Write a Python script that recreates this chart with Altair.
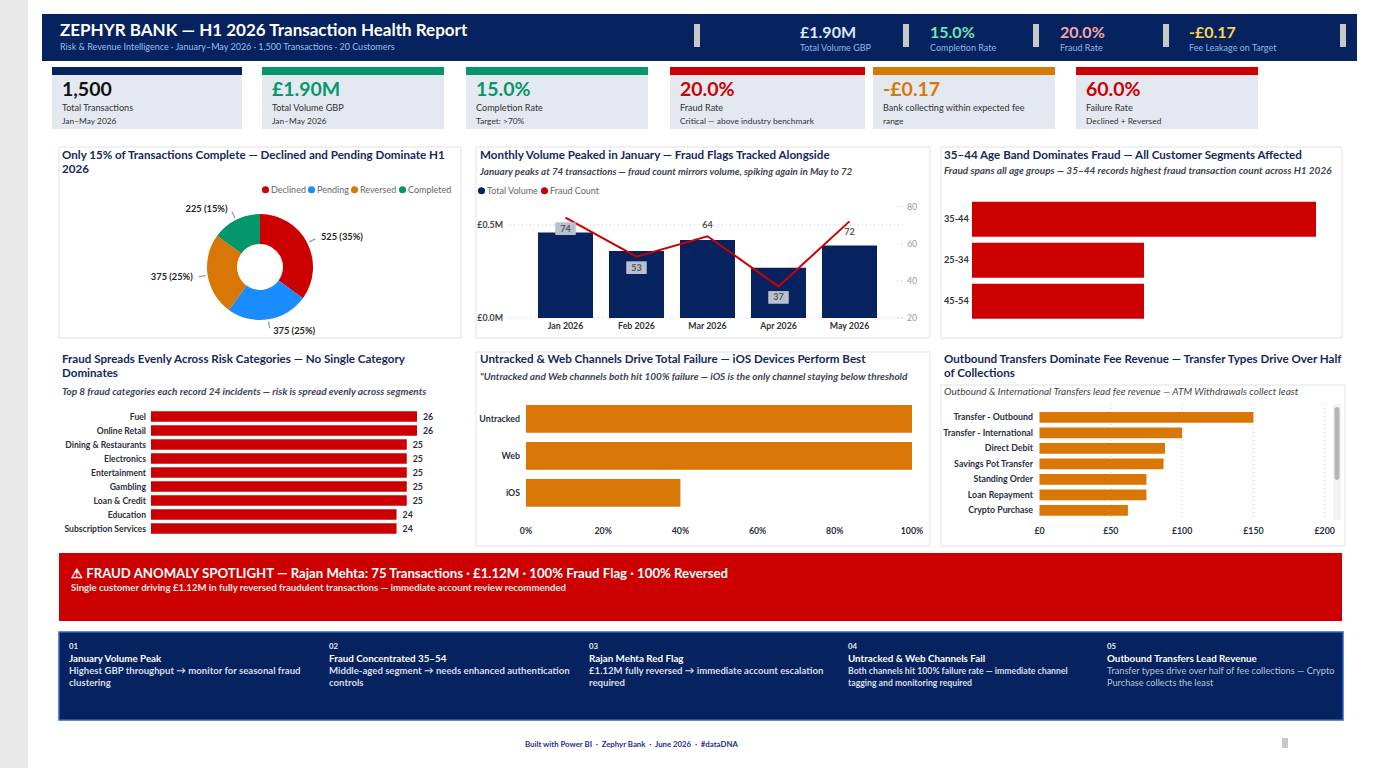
import altair as alt
import pandas as pd

FONT = "Lato"
NAVY = "#06225f"
RED = "#cc0000"
ORANGE = "#d97706"
GREEN = "#05966a"
BLUE = "#1a8cff"
CARD_BG = "#e4e8f0"
TITLE_C = "#14285c"
DARK = "#2b2f3d"
SUB_C = "#3d4358"
BORDER = "#dfe3ea"

# ---------------- values ----------------
status_labels = ["Declined", "Pending", "Reversed", "Completed"]
status_counts = [525, 375, 375, 225]
status_colors = [RED, BLUE, ORANGE, GREEN]

months = ["Jan 2026", "Feb 2026", "Mar 2026", "Apr 2026", "May 2026"]
volume_gbp_m = [0.46, 0.36, 0.42, 0.27, 0.39]
fraud_counts = [74, 53, 64, 37, 72]
vol_ticks = [0.0, 0.5]
fraud_ticks = [20, 40, 60, 80]
series_names = ["Total Volume", "Fraud Count"]

age_bands = ["35-44", "25-34", "45-54"]
age_fraud = [150, 75, 75]

fraud_cats = ["Fuel", "Online Retail", "Dining & Restaurants", "Electronics", "Entertainment",
              "Gambling", "Loan & Credit", "Education", "Subscription Services"]
fraud_cat_counts = [26, 26, 25, 25, 25, 25, 25, 24, 24]

channels = ["Untracked", "Web", "iOS"]
channel_fail = [1.0, 1.0, 0.4]
pct_ticks = [0, 0.2, 0.4, 0.6, 0.8, 1.0]

fee_types = ["Transfer - Outbound", "Transfer - International", "Direct Debit", "Savings Pot Transfer",
             "Standing Order", "Loan Repayment", "Crypto Purchase"]
fee_gbp = [150, 100, 88, 87, 75, 75, 62]
fee_ticks = [0, 50, 100, 150, 200]

kpi_values = ["1,500", "£1.90M", "15.0%", "20.0%", "-£0.17", "60.0%"]
kpi_labels = ["Total Transactions", "Total Volume GBP", "Completion Rate", "Fraud Rate",
              "Bank collecting within expected fee", "Failure Rate"]
kpi_notes = ["Jan–May 2026", "Jan–May 2026", "Target: >70%", "Critical — above industry benchmark",
             "range", "Declined + Reversed"]
kpi_value_colors = ["#111111", GREEN, GREEN, RED, ORANGE, RED]
kpi_bar_colors = [NAVY, GREEN, GREEN, RED, ORANGE, RED]

head_values = ["£1.90M", "15.0%", "20.0%", "-£0.17"]
head_labels = ["Total Volume GBP", "Completion Rate", "Fraud Rate", "Fee Leakage on Target"]
head_colors = ["#dbe7ff", "#6ee7b7", "#fca5a5", "#fcd34d"]

insight_nums = ["01", "02", "03", "04", "05"]
insight_titles = ["January Volume Peak", "Fraud Concentrated 35–54", "Rajan Mehta Red Flag",
                  "Untracked & Web Channels Fail", "Outbound Transfers Lead Revenue"]
insight_lines = [
    ["Highest GBP throughput → monitor for seasonal fraud", "clustering"],
    ["Middle-aged segment → needs enhanced authentication", "controls"],
    ["£1.12M fully reversed → immediate account escalation", "required"],
    ["Both channels hit 100% failure rate — immediate channel", "tagging and monitoring required"],
    ["Transfer types drive over half of fee collections — Crypto", "Purchase collects the least"],
]

# ---------------- layout ----------------
layers = []
TITLE_SIZE = 11.6
SUBT_SIZE = 10


def one():
    return alt.Chart(pd.DataFrame({"k": [0]}))


def box(x0, y0, x1, y1, fill, stroke=None, sw=1.0, radius=0, fo=1.0):
    kw = {"fill": fill, "fillOpacity": fo}
    if stroke:
        kw.update(stroke=stroke, strokeWidth=sw)
    if radius:
        kw["cornerRadius"] = radius
    layers.append(one().mark_rect(**kw).encode(
        x=alt.value(x0), x2=alt.value(x1), y=alt.value(y0), y2=alt.value(y1)))


def txt(x, y, s, size=9, color=DARK, weight="normal", align="left", italic=False):
    kw = dict(align=align, baseline="middle", fontSize=size, color=color,
              fontWeight=weight, font=FONT)
    if italic:
        kw["fontStyle"] = "italic"
    layers.append(one().mark_text(**kw).encode(
        x=alt.value(x), y=alt.value(y), text=alt.value(s)))


# page background strip
box(0, 0, 28, 768, "#e9e9e9")

# header
box(42, 14, 1357, 61, NAVY)
txt(60, 31, "ZEPHYR BANK — H1 2026 Transaction Health Report", 17, "#ffffff", "bold")
txt(60, 47, "Risk & Revenue Intelligence · January–May 2026 · 1,500 Transactions · 20 Customers",
    9, "#9bbcf2")
for gx in [694, 903, 1033, 1163, 1340]:
    box(gx, 24, gx + 6, 47, "#c8c8c8")
for hx, hv, hl, hc in zip([800, 930, 1060, 1189], head_values, head_labels, head_colors):
    txt(hx, 33, hv, 16, hc, "bold")
    txt(hx, 48, hl, 9, "#93b4e8")

# KPI cards
card_x = [(52, 242), (262, 444), (466, 648), (670, 865), (873, 1055), (1076, 1258)]
for (cx0, cx1), v, l, n, vc, bc in zip(card_x, kpi_values, kpi_labels, kpi_notes,
                                       kpi_value_colors, kpi_bar_colors):
    box(cx0, 75, cx1, 129, CARD_BG)
    box(cx0, 67, cx1, 75, bc)
    txt(cx0 + 10, 90, v, 19.5, vc, "bold")
    txt(cx0 + 10, 108, l, 9.1, "#333333")
    txt(cx0 + 10, 121, n, 8.4, "#333333")

# panel frames
box(59, 147, 461, 338, "#ffffff", BORDER, 1, fo=0)
box(476, 147, 930, 338, "#ffffff", BORDER, 1, fo=0)
box(941, 147, 1342, 338, "#ffffff", BORDER, 1, fo=0)
box(476, 352, 930, 546, "#ffffff", BORDER, 1, fo=0)
box(941, 385, 1345, 546, "#ffffff", BORDER, 1, fo=0)

# ---------- panel 1: donut ----------
txt(62, 156, "Only 15% of Transactions Complete — Declined and Pending Dominate H1", TITLE_SIZE, TITLE_C, "bold")
txt(62, 170, "2026", TITLE_SIZE, TITLE_C, "bold")

status_df = pd.DataFrame({"status": status_labels, "count": status_counts,
                          "idx": list(range(len(status_labels)))})
CX, CY = 260, 267
legend_common = dict(orient="none", direction="horizontal", title=None, symbolType="circle",
                     symbolSize=50, symbolStrokeWidth=0, labelFont=FONT, labelFontSize=9,
                     labelColor="#666666", columnPadding=1, labelOffset=1, padding=0)
layers.append(alt.Chart(status_df).mark_arc(innerRadius=23, outerRadius=53).encode(
    theta=alt.Theta("count:Q", stack=True),
    color=alt.Color("status:N", scale=alt.Scale(domain=status_labels, range=status_colors),
                    legend=alt.Legend(legendX=261, legendY=185, **legend_common)),
    order=alt.Order("idx:Q"),
    x=alt.value(CX), y=alt.value(CY)))

donut_base = alt.Chart(status_df).transform_window(
    cum="sum(count)", sort=[alt.SortField("idx")], frame=[None, 0]
).transform_joinaggregate(total="sum(count)").transform_calculate(
    mid="datum.cum - datum.count / 2",
    lo="datum.cum - datum.count / 2 - 2.5",
    hi="datum.cum - datum.count / 2 + 2.5",
    label="datum.count + ' (' + format(datum.count / datum.total, '.0%') + ')'",
    side="(datum.cum - datum.count / 2) < datum.total / 2 ? 'R' : 'L'",
)
theta_scale = alt.Scale(domain=[0, sum(status_counts)], range=[0, 6.283185307])
layers.append(donut_base.mark_arc(innerRadius=55, outerRadius=62, color="#9a9a9a").encode(
    theta=alt.Theta("lo:Q", scale=theta_scale), theta2="hi:Q",
    x=alt.value(CX), y=alt.value(CY)))
for side, align, dx in [("R", "left", 3), ("L", "right", -3)]:
    layers.append(donut_base.transform_filter(f"datum.side == '{side}'").mark_text(
        radius=65, align=align, baseline="middle", dx=dx, font=FONT, fontSize=9.3,
        fontWeight="bold", color="#222222").encode(
        theta=alt.Theta("mid:Q", scale=theta_scale), text="label:N",
        x=alt.value(CX), y=alt.value(CY)))

# ---------- panel 2: monthly combo ----------
txt(480, 156, "Monthly Volume Peaked in January — Fraud Flags Tracked Alongside", TITLE_SIZE, TITLE_C, "bold")
txt(480, 172, "January peaks at 74 transactions — fraud count mirrors volume, spiking again in May to 72",
    9.8, SUB_C, "bold", italic=True)

VOL_D, VOL_R = [0, 0.5], [318, 225]
FR_D, FR_R = [20, 80], [318, 206.5]
month_x = alt.Scale(domain=months, range=[530, 885], paddingInner=0.225, paddingOuter=0.1125)
vol_y = alt.Scale(domain=VOL_D, range=VOL_R, nice=False)
fr_y = alt.Scale(domain=FR_D, range=FR_R, nice=False, zero=False)


def lin(v, d, r):
    return r[0] + (v - d[0]) * (r[1] - r[0]) / (d[1] - d[0])


above, boxed = [], []
for i, f in enumerate(fraud_counts):
    is_max = 0 < i < len(fraud_counts) - 1 and f > fraud_counts[i - 1] and f > fraud_counts[i + 1]
    above.append(bool(is_max))
    ly = lin(f, FR_D, FR_R) + (-11 if is_max else 11)
    boxed.append(bool(ly + 7 > lin(volume_gbp_m[i], VOL_D, VOL_R)))
month_df = pd.DataFrame({"month": months, "volume": volume_gbp_m, "fraud": fraud_counts,
                         "above": above, "boxed": boxed})

grid_df = pd.DataFrame({"v": vol_ticks})
layers.append(alt.Chart(grid_df).mark_rule(color="#c9c9c9", strokeDash=[1, 3]).encode(
    y=alt.Y("v:Q", scale=vol_y, axis=None), x=alt.value(510), x2=alt.value(903)))
layers.append(alt.Chart(grid_df).transform_calculate(
    lab="'£' + format(datum.v, '.1f') + 'M'").mark_text(
    align="right", baseline="middle", font=FONT, fontSize=8.8, fontWeight="bold", color="#444444"
).encode(y=alt.Y("v:Q", scale=vol_y, axis=None), x=alt.value(503), text="lab:N"))
ftick_df = pd.DataFrame({"v": fraud_ticks})
layers.append(alt.Chart(ftick_df).mark_rule(color="#c9c9c9", strokeDash=[1, 3]).encode(
    y=alt.Y("v:Q", scale=fr_y, axis=None), x=alt.value(897), x2=alt.value(905)))
layers.append(alt.Chart(ftick_df).mark_text(
    align="left", baseline="middle", font=FONT, fontSize=8.8, color="#9a9a9a"
).encode(y=alt.Y("v:Q", scale=fr_y, axis=None), x=alt.value(907), text="v:Q"))

layers.append(alt.Chart(month_df).transform_calculate(series="'Total Volume'").mark_bar().encode(
    x=alt.X("month:N", scale=month_x, axis=None),
    y=alt.Y("volume:Q", scale=vol_y, axis=None),
    color=alt.Color("series:N", scale=alt.Scale(domain=series_names, range=[NAVY, RED]),
                    legend=alt.Legend(legendX=477, legendY=186, **legend_common))))
layers.append(alt.Chart(month_df).mark_text(
    baseline="middle", font=FONT, fontSize=8.8, fontWeight="bold", color="#333333").encode(
    x=alt.X("month:N", scale=month_x, axis=None), y=alt.value(326), text="month:N"))
layers.append(alt.Chart(month_df).mark_line(color=RED, strokeWidth=2).encode(
    x=alt.X("month:N", scale=month_x, axis=None),
    y=alt.Y("fraud:Q", scale=fr_y, axis=None)))
layers.append(alt.Chart(month_df).transform_filter("datum.boxed").mark_point(
    shape="M-1,-0.62H1V0.62H-1Z", size=420, filled=True, fill="#b9c0ce", opacity=1,
    strokeWidth=0, yOffset=11).encode(
    x=alt.X("month:N", scale=month_x, axis=None),
    y=alt.Y("fraud:Q", scale=fr_y, axis=None)))
for flag, off in [("datum.above", -11), ("!datum.above", 11)]:
    layers.append(alt.Chart(month_df).transform_filter(flag).mark_text(
        baseline="middle", font=FONT, fontSize=9, fontWeight="bold", color="#555555",
        yOffset=off).encode(
        x=alt.X("month:N", scale=month_x, axis=None),
        y=alt.Y("fraud:Q", scale=fr_y, axis=None), text="fraud:Q"))

# ---------- panel 3: age bands ----------
txt(944, 156, "35–44 Age Band Dominates Fraud — All Customer Segments Affected", TITLE_SIZE, TITLE_C, "bold")
txt(944, 171, "Fraud spans all age groups — 35–44 records highest fraud transaction count across H1 2026",
    SUBT_SIZE, SUB_C, "bold", italic=True)
age_df = pd.DataFrame({"band": age_bands, "n": age_fraud})
age_y = alt.Scale(domain=age_bands, range=[198.7, 321.7], paddingInner=0.146, paddingOuter=0.073)
age_x = alt.Scale(domain=[0, max(age_fraud)], range=[972, 1316], nice=False)
layers.append(alt.Chart(age_df).mark_bar(color=RED).encode(
    y=alt.Y("band:N", scale=age_y, axis=None), x=alt.X("n:Q", scale=age_x, axis=None)))
layers.append(alt.Chart(age_df).mark_text(
    align="left", baseline="middle", font=FONT, fontSize=9.2, fontWeight="bold", color="#333333"
).encode(y=alt.Y("band:N", scale=age_y, axis=None), x=alt.value(944), text="band:N"))

# ---------- panel 4: fraud categories ----------
txt(62, 360, "Fraud Spreads Evenly Across Risk Categories — No Single Category", TITLE_SIZE, TITLE_C, "bold")
txt(62, 374, "Dominates", TITLE_SIZE, TITLE_C, "bold")
txt(62, 392, "Top 8 fraud categories each record 24 incidents — risk is spread evenly across segments",
    SUBT_SIZE, SUB_C, "bold", italic=True)
cat_df = pd.DataFrame({"cat": fraud_cats, "n": fraud_cat_counts})
cat_y = alt.Scale(domain=fraud_cats, range=[409.5, 535.5], paddingInner=0.25, paddingOuter=0.125)
cat_x = alt.Scale(domain=[0, max(fraud_cat_counts)], range=[151, 417], nice=False)
layers.append(alt.Chart(cat_df).mark_bar(color=RED).encode(
    y=alt.Y("cat:N", scale=cat_y, axis=None), x=alt.X("n:Q", scale=cat_x, axis=None)))
layers.append(alt.Chart(cat_df).mark_text(
    align="right", baseline="middle", font=FONT, fontSize=8.6, fontWeight="bold", color=DARK
).encode(y=alt.Y("cat:N", scale=cat_y, axis=None), x=alt.value(146), text="cat:N"))
layers.append(alt.Chart(cat_df).mark_text(
    align="left", baseline="middle", dx=6, font=FONT, fontSize=8.8, fontWeight="bold", color=DARK
).encode(y=alt.Y("cat:N", scale=cat_y, axis=None), x=alt.X("n:Q", scale=cat_x, axis=None),
         text="n:Q"))

# ---------- panel 5: channels ----------
txt(480, 360, "Untracked & Web Channels Drive Total Failure — iOS Devices Perform Best", TITLE_SIZE, TITLE_C, "bold")
txt(480, 377, "\"Untracked and Web channels both hit 100% failure — iOS is the only channel staying below threshold",
    SUBT_SIZE, SUB_C, "bold", italic=True)
ch_df = pd.DataFrame({"ch": channels, "r": channel_fail})
ch_y = alt.Scale(domain=channels, range=[400.4, 511.4], paddingInner=0.25, paddingOuter=0.125)
ch_x = alt.Scale(domain=[0, 1], range=[526, 912], nice=False)
layers.append(alt.Chart(ch_df).mark_bar(color=ORANGE).encode(
    y=alt.Y("ch:N", scale=ch_y, axis=None), x=alt.X("r:Q", scale=ch_x, axis=None)))
layers.append(alt.Chart(ch_df).mark_text(
    align="right", baseline="middle", font=FONT, fontSize=8.8, fontWeight="bold", color=DARK
).encode(y=alt.Y("ch:N", scale=ch_y, axis=None), x=alt.value(520), text="ch:N"))
layers.append(alt.Chart(pd.DataFrame({"v": pct_ticks})).mark_text(
    baseline="middle", font=FONT, fontSize=8.8, fontWeight="bold", color=DARK
).encode(x=alt.X("v:Q", scale=ch_x, axis=None), y=alt.value(531),
         text=alt.Text("v:Q", format=".0%")))

# ---------- panel 6: fees ----------
txt(944, 360, "Outbound Transfers Dominate Fee Revenue — Transfer Types Drive Over Half", TITLE_SIZE, TITLE_C, "bold")
txt(944, 374, "of Collections", TITLE_SIZE, TITLE_C, "bold")
txt(944, 392, "Outbound & International Transfers lead fee revenue — ATM Withdrawals collect least",
    SUBT_SIZE, "#444444", italic=True)
fee_df = pd.DataFrame({"t": fee_types, "v": fee_gbp})
fee_y = alt.Scale(domain=fee_types, range=[409.6, 518.1], paddingInner=0.31, paddingOuter=0.155)
fee_x = alt.Scale(domain=[0, 200], range=[1039.5, 1324.7], nice=False)
fee_tick_df = pd.DataFrame({"v": fee_ticks})
layers.append(alt.Chart(fee_tick_df).transform_filter("datum.v > 0").mark_rule(
    color="#c9c9c9", strokeDash=[1, 3]).encode(
    x=alt.X("v:Q", scale=fee_x, axis=None), y=alt.value(404), y2=alt.value(520)))
layers.append(alt.Chart(fee_df).mark_bar(color=ORANGE).encode(
    y=alt.Y("t:N", scale=fee_y, axis=None), x=alt.X("v:Q", scale=fee_x, axis=None)))
layers.append(alt.Chart(fee_df).mark_text(
    align="right", baseline="middle", font=FONT, fontSize=8.8, fontWeight="bold", color=DARK
).encode(y=alt.Y("t:N", scale=fee_y, axis=None), x=alt.value(1033), text="t:N"))
layers.append(alt.Chart(fee_tick_df).transform_calculate(lab="'£' + datum.v").mark_text(
    baseline="middle", font=FONT, fontSize=8.8, fontWeight="bold", color=DARK
).encode(x=alt.X("v:Q", scale=fee_x, axis=None), y=alt.value(531), text="lab:N"))
box(1333, 404, 1341, 520, "#f3f3f3")
box(1334.5, 407, 1339.5, 480, "#b5b5b5", radius=2.5)

# ---------- spotlight ----------
box(59, 553, 1342, 621, RED)
txt(71, 574, "⚠ FRAUD ANOMALY SPOTLIGHT — Rajan Mehta: 75 Transactions · £1.12M · 100% Fraud Flag · 100% Reversed",
    13.2, "#ffffff", "bold")
txt(71, 588, "Single customer driving £1.12M in fully reversed fraudulent transactions — immediate account review recommended",
    9.6, "#f7e6e6", "bold")

# ---------- insights ----------
box(59, 632, 1343, 720, NAVY, "#2a64c8", 1.5)
for ix, num, ttl, lines, k in zip([69, 329, 589, 848, 1107], insight_nums, insight_titles,
                                   insight_lines, range(5)):
    txt(ix, 647, num, 7.8, "#e6ebf5", "bold")
    txt(ix, 659, ttl, 9.8, "#ffffff", "bold")
    body_c = "#b9c4db" if k == 4 else "#d8deeb"
    body_w = "normal" if k == 4 else "bold"
    body_s = 9.2 if k == 4 else (8.7 if k == 3 else 9.6)
    for j, ln in enumerate(lines):
        txt(ix, 671 + j * 11.5, ln, body_s, body_c, body_w)

# footer
SEP = "\u00a0\u00a0·\u00a0\u00a0"
txt(525, 745, SEP.join(["Built with Power BI", "Zephyr Bank", "June 2026", "#dataDNA"]),
    7.8, "#1e2f8c", "bold")
box(1282, 738, 1288, 748, "#c8c8c8")

chart = alt.layer(*layers).resolve_scale(
    x="independent", y="independent", color="independent", theta="independent"
).properties(
    width=1374, height=768, padding=0, autosize=alt.AutoSizeParams(type="none"),
    background="#ffffff"
).configure_view(strokeWidth=0)

chart.save("out.html", embed_options={"renderer": "svg", "actions": False})
